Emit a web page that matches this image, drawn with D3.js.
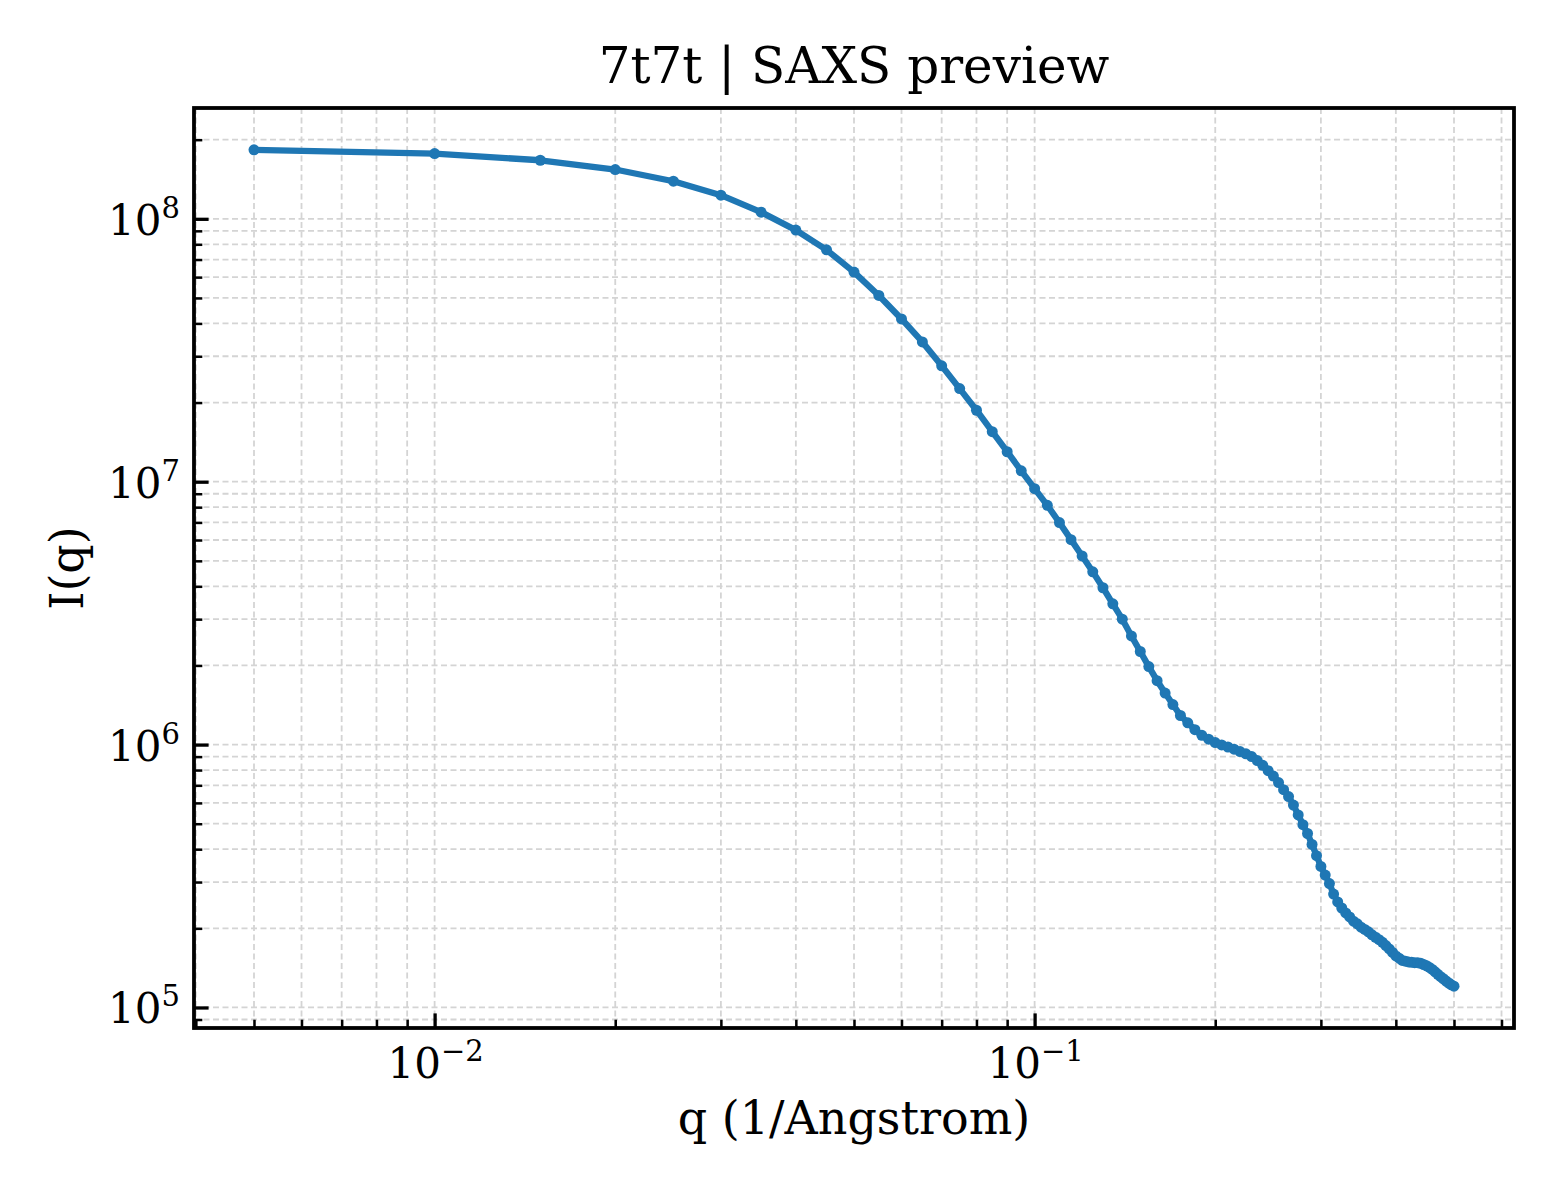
<!DOCTYPE html>
<html>
<head>
<meta charset="utf-8">
<script src="https://cdn.jsdelivr.net/npm/d3@7"></script>
<style>
  body { margin: 0; background: #fff; }
  svg { display: block; font-family: 'DejaVu Serif', serif; }
</style>
</head>
<body>
<div id="chart"></div>
<script>
// q grid, 1/Angstrom (step 0.005 from 0.005 to 0.5)
var Q = [];
for (var n = 1; n <= 100; n++) Q.push(+(n * 0.005).toFixed(3));

// I(q), one value per point
var I_Q = [
  1.83e8, 1.77e8, 1.67e8, 1.54e8, 1.39e8, 1.23e8, 1.06e8, 9.06e7, 7.62e7, 6.27e7,
  5.11e7, 4.16e7, 3.40e7, 2.76e7, 2.26e7, 1.87e7, 1.55e7, 1.30e7, 1.10e7, 9.41e6,
  8.13e6, 6.99e6, 6.02e6, 5.22e6, 4.54e6, 3.95e6, 3.43e6, 3.00e6, 2.59e6, 2.26e6,
  1.98e6, 1.75e6, 1.57e6, 1.42e6, 1.29e6, 1.21e6, 1.14e6, 1.085e6, 1.048e6, 1.018e6,
  9.97e5, 9.79e5, 9.61e5, 9.41e5, 9.22e5, 9.00e5, 8.69e5, 8.34e5, 7.96e5, 7.59e5,
  7.17e5, 6.74e5, 6.34e5, 5.89e5, 5.40e5, 4.96e5, 4.59e5, 4.17e5, 3.78e5, 3.44e5,
  3.19e5, 2.96e5, 2.70e5, 2.52e5, 2.39e5, 2.29e5, 2.21e5, 2.13e5, 2.08e5, 2.02e5,
  1.98e5, 1.94e5, 1.89e5, 1.85e5, 1.81e5, 1.77e5, 1.72e5, 1.67e5, 1.62e5, 1.57e5,
  1.54e5, 1.51e5, 1.50e5, 1.49e5, 1.485e5, 1.48e5, 1.48e5, 1.473e5, 1.457e5, 1.441e5,
  1.420e5, 1.395e5, 1.367e5, 1.337e5, 1.310e5, 1.286e5, 1.261e5, 1.239e5, 1.220e5, 1.205e5
];

var X_MAJOR = [1e-2, 1e-1];
var Y_MAJOR = [1e5, 1e6, 1e7, 1e8];
var X_LABELS = ['−2', '−1'];
var Y_LABELS = ['5', '6', '7', '8'];

var TITLE = '7t7t | SAXS preview';
var X_TITLE = 'q (1/Angstrom)';
var Y_TITLE = 'I(q)';

var W = 1560, H = 1200;
var margin = { top: 108, right: 46, bottom: 172, left: 194 };
var width = W - margin.left - margin.right;
var height = H - margin.top - margin.bottom;

// matplotlib-style 5% margins in log space
function logPad(vals) {
  var lo = Math.log10(d3.min(vals)), hi = Math.log10(d3.max(vals));
  var p = (hi - lo) * 0.05;
  return [Math.pow(10, lo - p), Math.pow(10, hi + p)];
}

var x = d3.scaleLog().domain(logPad(Q)).range([0, width]);
var y = d3.scaleLog().domain(logPad(I_Q)).range([height, 0]);

function minors(scale) {
  var d = scale.domain(), out = [];
  for (var e = Math.floor(Math.log10(d[0])); e <= Math.ceil(Math.log10(d[1])); e++) {
    for (var k = 2; k <= 9; k++) {
      var v = k * Math.pow(10, e);
      if (v >= d[0] && v <= d[1]) out.push(v);
    }
  }
  return out;
}
var xMinor = minors(x), yMinor = minors(y);

var svg = d3.select('#chart').append('svg')
  .attr('width', W).attr('height', H);

var g = svg.append('g')
  .attr('transform', 'translate(' + margin.left + ',' + margin.top + ')');

// grid (major + minor)
var grid = g.append('g').attr('stroke', '#d4d4d4').attr('stroke-width', 1.8)
  .attr('stroke-dasharray', '6,3.5').attr('fill', 'none');
X_MAJOR.concat(xMinor).forEach(function(v) {
  grid.append('line').attr('x1', x(v)).attr('x2', x(v)).attr('y1', 0).attr('y2', height);
});
Y_MAJOR.concat(yMinor).forEach(function(v) {
  grid.append('line').attr('x1', 0).attr('x2', width).attr('y1', y(v)).attr('y2', y(v));
});

// data
var line = d3.line()
  .x(function(d, i) { return x(Q[i]); })
  .y(function(d) { return y(d); });

g.append('path')
  .datum(I_Q)
  .attr('d', line)
  .attr('fill', 'none')
  .attr('stroke', '#1f77b4')
  .attr('stroke-width', 6.3)
  .attr('stroke-linejoin', 'round');

g.selectAll('circle.pt')
  .data(I_Q)
  .enter().append('circle')
  .attr('class', 'pt')
  .attr('cx', function(d, i) { return x(Q[i]); })
  .attr('cy', function(d) { return y(d); })
  .attr('r', 5.5)
  .attr('fill', '#1f77b4');

// axes: inward ticks, bottom + left only
function styleAxis(sel, major) {
  sel.select('.domain').remove();
  sel.selectAll('line').attr('stroke', '#000')
    .attr('stroke-width', major ? 3.3 : 2.5);
}

g.append('g').attr('transform', 'translate(0,' + height + ')')
  .call(d3.axisBottom(x).tickValues(X_MAJOR).tickSize(-14.6).tickFormat(''))
  .call(function(s) { styleAxis(s, true); });
g.append('g').attr('transform', 'translate(0,' + height + ')')
  .call(d3.axisBottom(x).tickValues(xMinor).tickSize(-8.3).tickFormat(''))
  .call(function(s) { styleAxis(s, false); });
g.append('g')
  .call(d3.axisLeft(y).tickValues(Y_MAJOR).tickSize(-14.6).tickFormat(''))
  .call(function(s) { styleAxis(s, true); });
g.append('g')
  .call(d3.axisLeft(y).tickValues(yMinor).tickSize(-8.3).tickFormat(''))
  .call(function(s) { styleAxis(s, false); });

// frame
g.append('rect')
  .attr('width', width).attr('height', height)
  .attr('fill', 'none').attr('stroke', '#000').attr('stroke-width', 3.8);

// tick labels as 10^k
function powLabel(sel, exp) {
  sel.append('tspan').text('10');
  sel.append('tspan').attr('font-size', 29).attr('dy', -17).text(exp);
}

X_MAJOR.forEach(function(v, i) {
  g.append('text')
    .attr('x', x(v) + 1).attr('y', height + 50)
    .attr('text-anchor', 'middle')
    .attr('font-size', 42).attr('fill', '#000')
    .call(powLabel, X_LABELS[i]);
});
Y_MAJOR.forEach(function(v, i) {
  g.append('text')
    .attr('x', -14).attr('y', y(v) + 16)
    .attr('text-anchor', 'end')
    .attr('font-size', 42).attr('fill', '#000')
    .call(powLabel, Y_LABELS[i]);
});

// titles
svg.append('text')
  .attr('x', margin.left + width / 2).attr('y', 83)
  .attr('text-anchor', 'middle').attr('font-size', 50).attr('fill', '#000')
  .text(TITLE);

svg.append('text')
  .attr('x', margin.left + width / 2).attr('y', 1134)
  .attr('text-anchor', 'middle').attr('font-size', 46).attr('fill', '#000')
  .text(X_TITLE);

svg.append('text')
  .attr('transform', 'translate(83,' + (margin.top + height / 2) + ') rotate(-90)')
  .attr('text-anchor', 'middle').attr('font-size', 46).attr('fill', '#000')
  .text(Y_TITLE);
</script>
</body>
</html>
